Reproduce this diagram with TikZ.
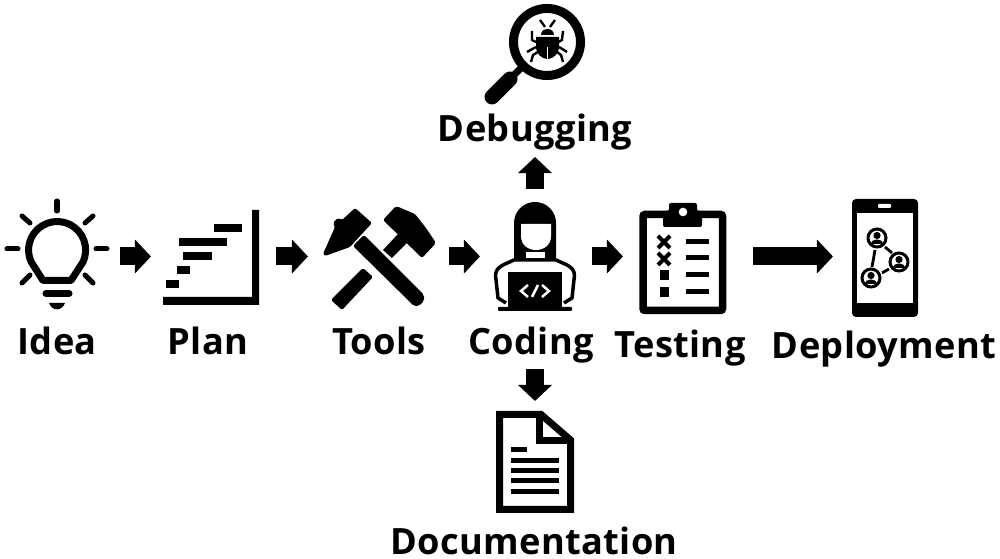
\documentclass[tikz,border=0pt]{standalone}
\usepackage{fontspec}
\setmainfont{Open Sans}[BoldFont={Open Sans Bold}]
\usetikzlibrary{arrows.meta}
\begin{document}
\begin{tikzpicture}[x=0.01cm,y=-0.01cm]
		\tikzset{iconbox/.style = {inner sep = 0pt, outer sep = 0pt}}
		\tikzset{steplabel/.style = {inner sep = 0pt, outer sep = 0pt, anchor=base, font=\fontsize{10.3pt}{12pt}\bfseries\addfontfeature{LetterSpace=1}}}
		\tikzset{blockarrow/.style = {line width=0.18cm, -{Triangle[length=0.16cm,width=0.33cm]}}}
		\tikzset{thick line/.style = {line width=0.05cm, line cap=round}}
		\useasboundingbox (0,0) rectangle (1000,559);

		\node[iconbox, minimum width=1.2cm, minimum height=1.1cm] (idea) at (60,256.5) {};
		\node[iconbox, minimum width=1.25cm, minimum height=1.1cm] (plan) at (213.5,256.5) {};
		\node[iconbox, minimum width=1.41cm, minimum height=1.1cm] (tools) at (378.5,256.5) {};
		\node[iconbox, minimum width=1.1cm, minimum height=1.8cm] (coding) at (535,279) {};
		\node[iconbox, minimum width=1.3cm, minimum height=1.1cm] (testing) at (688,256.5) {};
		\node[iconbox, minimum width=1.04cm, minimum height=1.1cm] (deployment) at (885,256.5) {};
		\node[iconbox, minimum width=1.02cm, minimum height=1.02cm] (debugging) at (535,55) {};
		\node[iconbox, minimum width=0.78cm, minimum height=1.13cm] (documentation) at (535,457.5) {};

		\node[steplabel] (idea_label) at (57,355) {Idea};
		\node[steplabel] (plan_label) at (208,355) {Plan};
		\node[steplabel] (tools_label) at (379,355) {Tools};
		\node[steplabel] (coding_label) at (531,355) {Coding};
		\node[steplabel] (testing_label) at (680,358) {Testing};
		\node[steplabel] (deployment_label) at (884,359) {Deployment};
		\node[steplabel, text depth=0.15cm] (debugging_label) at (535,142) {Debugging};
		\node[steplabel] (documentation_label) at (534,555) {Documentation};

		\draw[blockarrow] (idea.east) -- (plan.west);
		\draw[blockarrow] (plan.east) -- (tools.west);
		\draw[blockarrow] (tools.east) -- (tools.east -| coding.west);
		\draw[blockarrow, shorten <=0.02cm] (coding.east |- testing.west) -- (testing.west);
		\draw[blockarrow] (testing.east) -- (deployment.west);
		\draw[blockarrow] (coding.north) -- (debugging_label.south);
		\draw[blockarrow] (coding.south) -- (documentation.north);

		\draw[line width=0.07cm, line join=round] (43,280.5) -- (71,280.5) -- (83,262) arc[start angle=-24.8, end angle=204.8, radius=0.285cm] -- cycle;
		\draw[thick line] (57,201) -- (57,211);
		\draw[thick line] (96,249) -- (107,249);
		\draw[thick line] (7,249) -- (18,249);
		\draw[thick line] (85,223) -- (93,216);
		\draw[thick line] (22,216) -- (30,223);
		\draw[thick line] (85,275) -- (93,283);
		\draw[thick line] (22,283) -- (30,275);
		\draw[line width=0.07cm, line cap=round] (46,293.5) -- (69,293.5);
		\fill (49,303) .. controls (52,311.5) and (62,311.5) .. (65,303) -- cycle;

		\fill (163,297) -- (252,297) -- (252,210) -- (259,210) -- (259,305) -- (163,305) -- cycle;
		\fill (214,224) rectangle (242,232);
		\fill (179,238) rectangle (227,246);
		\fill (183,252) rectangle (212,260);
		\fill (177,266) rectangle (190,274);
		\fill (166,280) rectangle (179,288);

		\fill[rounded corners=0.02cm] (353,246) -- (364,235) -- (424,295) -- (424,301) -- (419,306) -- (414,306) -- cycle;
		\fill[rounded corners=0.015cm] (323,254) -- (335,227) -- (333,223) -- (338,218) -- (342,220) -- (355,208) -- (372,223) -- (350,247) -- (325,256) -- cycle;
		\fill[rounded corners=0.015cm] (331,300) -- (363,268) -- (373,277) -- (342,310) -- cycle;
		\fill (383,250) -- (399,233) -- (407,243) -- (392,258) -- cycle;
		\fill[rounded corners=0.02cm] (396,206) -- (415,214) -- (426,228) -- (436,243) -- (422,258) -- (383,220) -- cycle;

		\draw[line width=0.035cm, line join=round] (506,303) -- (498,298) -- (495.5,275) .. controls (496,270) and (498,268) .. (503,265) -- (514,260) -- (556,260) -- (567,265) .. controls (572,268) and (574,270) .. (574.5,275) -- (572,298) -- (564,303);
		\fill (514,258) -- (514,223) arc[start angle=180, end angle=0, radius=0.21cm] -- (556,258) -- cycle;
		\fill[white] (521,224) -- (551,224) -- (551,236) .. controls (551,245) and (544,250) .. (536,250) .. controls (528,250) and (521,245) .. (521,236) -- cycle;
		\fill[white] (526,252) rectangle (545,258);
		\fill (508,272) -- (562,272) -- (562,307) -- (508,307) -- cycle;
		\fill[rounded corners=0.01cm] (498,307) rectangle (572,311);
		\draw[white, line width=0.025cm] (528,285) -- (521,291) -- (528,297);
		\draw[white, line width=0.025cm] (542,285) -- (549,291) -- (542,297);
		\draw[white, line width=0.025cm] (538,285) -- (532,297);

		\draw[line width=0.075cm, rounded corners=0.02cm] (643,214.5) rectangle (722.5,310.5);
		\fill[rounded corners=0.02cm] (663,211) -- (669,211) -- (669,203) -- (697,203) -- (697,211) -- (702,211) -- (702,227) -- (663,227) -- cycle;
		\fill[white] (683,212) circle (0.043cm);
		\draw[line width=0.05cm] (686,242) -- (709,242);
		\draw[line width=0.05cm] (686,258) -- (709,258);
		\draw[line width=0.05cm] (686,275) -- (709,275);
		\draw[line width=0.05cm] (686,292) -- (709,292);
		\draw[line width=0.04cm] (658,236) -- (670,248);
		\draw[line width=0.04cm] (670,236) -- (658,248);
		\draw[line width=0.04cm] (658,253) -- (670,265);
		\draw[line width=0.04cm] (670,253) -- (658,265);
		\fill (660,270) rectangle (669,280);
		\fill (660,287) rectangle (669,297);

		\fill[rounded corners=0.04cm] (852,199) rectangle (918,317);
		\fill[white] (857,213) rectangle (913,303);
		\fill[white, rounded corners=0.01cm] (878,204) rectangle (891,208);
		\draw[line width=0.028cm] (875,250) -- (872,267);
		\draw[line width=0.028cm] (885,247) -- (892,253);
		\draw[line width=0.028cm] (882,273) -- (889,269);
		\foreach \ringx/\ringy in {877/238, 899/262, 871/278} {
			\draw[line width=0.03cm] (\ringx,\ringy) circle (0.09cm);
			\fill (\ringx,\ringy-2.5) circle (0.036cm);
			\fill (\ringx-6.5,\ringy+6) .. controls (\ringx-6,\ringy) and (\ringx+6,\ringy) .. (\ringx+6.5,\ringy+6) -- cycle;
		}

		\draw[line width=0.09cm] (547,42) circle (0.335cm);
		\draw[line width=0.07cm] (524,65) -- (512,77);
		\draw[line width=0.15cm, line cap=round] (510,79) -- (492,97);
		\fill (541,35) .. controls (541,27) and (554,27) .. (554,35) -- cycle;
		\fill (536,37) -- (559,37) -- (559,46) .. controls (559,54) and (554,58) .. (548.5,59) -- (546.5,59) .. controls (541,58) and (536,54) .. (536,46) -- cycle;
		\draw[white, line width=0.012cm] (547.5,47) -- (547.5,59);
		\draw[line width=0.024cm] (540,20) -- (545,27);
		\draw[line width=0.024cm] (555,20) -- (550,27);
		\draw[line width=0.024cm] (532,31) -- (532,40) -- (538,43);
		\draw[line width=0.024cm] (563,31) -- (562,40) -- (557,43);
		\draw[line width=0.024cm] (527,52) -- (536,47);
		\draw[line width=0.024cm] (567,52) -- (559,47);
		\draw[line width=0.024cm] (531,62) -- (533,55) -- (538,52);
		\draw[line width=0.024cm] (563,62) -- (561,55) -- (557,52);

		\draw[line width=0.07cm] (499.5,414.5) -- (541,414.5) -- (570.5,440) -- (570.5,509.5) -- (499.5,509.5) -- cycle;
		\draw[line width=0.07cm] (539,415) -- (539,441) -- (570,441);
		\draw[line width=0.05cm] (511,450) -- (527,450);
		\draw[line width=0.05cm] (511,461) -- (559,461);
		\draw[line width=0.05cm] (511,471) -- (559,471);
		\draw[line width=0.05cm] (511,481) -- (559,481);
		\draw[line width=0.05cm] (511,492) -- (559,492);

	\end{tikzpicture}
\end{document}
